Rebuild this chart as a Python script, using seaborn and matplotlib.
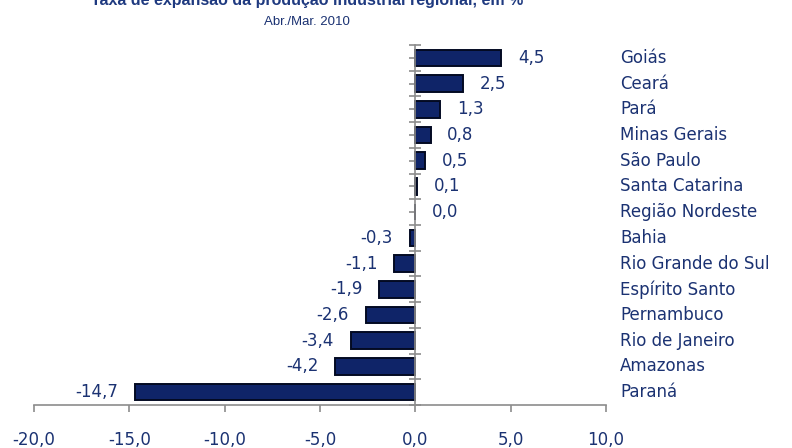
import matplotlib.pyplot as plt
import seaborn as sns
import pandas as pd
from matplotlib.ticker import FixedLocator

# Data
regions = ['Goiás', 'Ceará', 'Pará', 'Minas Gerais', 'São Paulo', 'Santa Catarina',
           'Região Nordeste', 'Bahia', 'Rio Grande do Sul', 'Espírito Santo',
           'Pernambuco', 'Rio de Janeiro', 'Amazonas', 'Paraná']
values = [4.5, 2.5, 1.3, 0.8, 0.5, 0.1, 0.0, -0.3, -1.1, -1.9, -2.6, -3.4, -4.2, -14.7]
xticks = [-20, -15, -10, -5, 0, 5, 10]

title = 'Taxa de expansão da produção industrial regional, em %'
subtitle = 'Abr./Mar. 2010'

navy = '#1b3272'
gray = '#8c8c8c'

df = pd.DataFrame({'regiao': regions, 'valor': values})

sns.set_style('white')
plt.rcParams['font.family'] = ['DejaVu Sans']

fig = plt.figure(figsize=(7.92, 4.48), dpi=100)
ax = fig.add_axes([34 / 792, 43 / 448, 572 / 792, 360 / 448])

sns.barplot(data=df, x='valor', y='regiao', orient='h', color='#0f2468',
            width=0.64, saturation=1, edgecolor='#030a22', linewidth=1.4, ax=ax)

ax.set_xlim(-20, 10)
ax.set_ylim(len(regions) - 0.5, -0.5)
ax.set_xlabel('')
ax.set_ylabel('')

# axes styling
for s in ['top', 'right']:
    ax.spines[s].set_visible(False)
ax.spines['left'].set_position(('data', 0))
ax.spines['left'].set_color(gray)
ax.spines['bottom'].set_color(gray)
ax.spines['left'].set_linewidth(1.2)
ax.spines['bottom'].set_linewidth(1.2)

ax.set_xticks(xticks)
ax.set_xticklabels([f'{t:.1f}'.replace('.', ',') for t in xticks])
ax.tick_params(axis='x', bottom=True, colors=gray, labelcolor=navy, labelsize=12,
               direction='out', length=5, width=1.2, pad=14)

ax.yaxis.set_major_locator(FixedLocator([i - 0.5 for i in range(len(regions) + 1)]))
ax.yaxis.set_minor_locator(FixedLocator(list(range(len(regions)))))
ax.set_yticklabels([])
ax.tick_params(axis='y', which='major', left=True, colors=gray, direction='inout',
               length=8, width=1.2)
ax.tick_params(axis='y', which='minor', left=True, colors=gray, direction='out',
               length=4, width=1.2)

# value labels
for i, v in enumerate(values):
    lab = f'{v:.1f}'.replace('.', ',')
    if v >= 0:
        ax.annotate(lab, (v, i), xytext=(12, 0), textcoords='offset points',
                    ha='left', va='center', color=navy, fontsize=12)
    else:
        ax.annotate(lab, (v, i), xytext=(-12, 0), textcoords='offset points',
                    ha='right', va='center', color=navy, fontsize=12)

# category labels on the right
for i, r in enumerate(regions):
    ax.text(10.75, i, r, ha='left', va='center', color=navy, fontsize=12, clip_on=False)

# title sits partly above the top edge, as in the original
fig.text(307 / 792, 1 - 5 / 448, title, ha='center', va='baseline', color='#1f3a80',
         fontsize=11.5, fontweight='bold', family=['Liberation Sans', 'DejaVu Sans'])
fig.text(307 / 792, 1 - 25 / 448, subtitle, ha='center', va='baseline', color=navy,
         fontsize=9.5, family=['Liberation Sans', 'DejaVu Sans'])

fig.savefig('out.png', dpi=100)
